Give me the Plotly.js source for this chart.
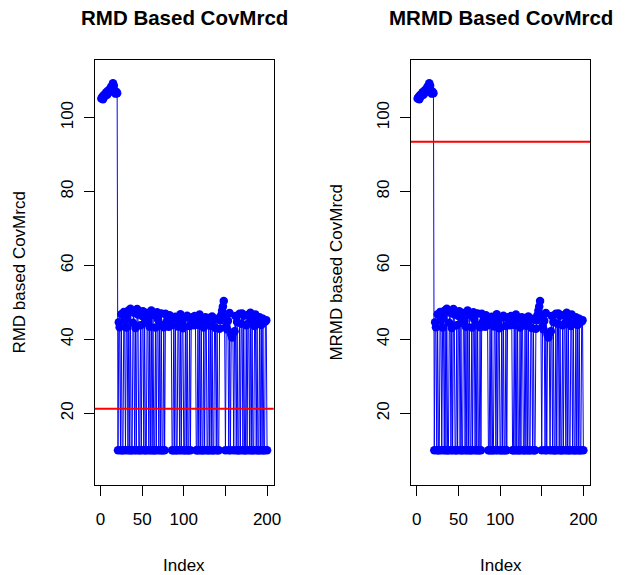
<!DOCTYPE html>
<html>
<head>
<meta charset="utf-8">
<script src="https://cdn.plot.ly/plotly-3.0.1.min.js"></script>
<style>html,body{margin:0;padding:0;background:#fff;}#chart{width:625px;height:575px;}</style>
</head>
<body>
<div id="chart"></div>
<script>
// Values (same series in both panels)
const covMrcd = [
  105.2, 105.6, 105.0, 106.1, 105.8, 106.4, 106.9, 106.2, 107.3, 106.8, 107.6, 107.9, 108.4, 108.1, 109.3, 108.6, 107.2, 106.5, 107.0, 106.6,
  10, 44.6, 43.3, 10, 46.8, 10, 10, 47.4, 45.1, 10, 43.2, 45.9, 10, 47.9, 10, 48.3, 10, 10, 44.5, 47.2,
  10, 43.1, 10, 48.2, 46.7, 10, 10, 43.8, 10, 46.3, 47.6, 10, 44.5, 10, 10, 47.1, 45.0, 10, 43.4, 10,
  47.8, 10, 46.6, 10, 10, 43.2, 10, 47.3, 45.4, 10, 44.1, 10, 47.0, 10, 10, 43.3, 10, 46.9, 44.6, 46.2,
  44.7, 43.4, 46.5, 45.0, 43.8, 10, 10, 45.7, 10, 46.1, 10, 10, 43.5, 45.3, 10, 46.8, 10, 44.1, 43.0, 10,
  10, 45.9, 10, 46.4, 10, 10, 43.6, 10, 45.5, 46.0, 44.2, 43.8, 46.3, 45.7, 10, 10, 43.9, 10, 46.7, 10,
  45.4, 10, 10, 43.2, 10, 46.0, 44.1, 10, 10, 45.8, 10, 43.7, 10, 46.2, 10, 10, 45.3, 43.1, 10, 45.6,
  10, 10, 42.9, 45.2, 46.6, 47.8, 48.9, 50.4, 46.1, 10, 43.6, 42.7, 45.0, 10, 47.1, 10, 41.3, 40.5, 41.6, 10,
  42.2, 46.3, 10, 44.7, 10, 10, 46.9, 10, 44.2, 47.0, 10, 46.4, 10, 10, 43.8, 10, 46.6, 44.5, 10, 47.2,
  10, 45.8, 10, 10, 43.6, 46.7, 10, 44.3, 10, 10, 46.0, 10, 43.9, 10, 45.6, 10, 10, 44.8, 45.2, 10
];
const index = covMrcd.map((_, i) => i + 1);
const rmdCutoff = 21.2;
const mrmdCutoff = 93.5;
const panelTitles = ["RMD Based CovMrcd", "MRMD Based CovMrcd"];
const yLabels = ["RMD based CovMrcd", "MRMD based CovMrcd"];
const xLabel = "Index";
const xTickVals = [0, 50, 100, 150, 200];
const xTickText = ["0", "50", "100", "", "200"];
const yTickVals = [20, 40, 60, 80, 100];

const W = 625, H = 575;
const FONT = "Liberation Sans, Arial, Helvetica, sans-serif";
const blue = "#0000FF";

function trace(xa, ya) {
  return {
    x: index, y: covMrcd, xaxis: xa, yaxis: ya,
    type: "scatter", mode: "lines+markers",
    line: {color: blue, width: 1},
    marker: {color: blue, size: 8.5},
    hoverinfo: "x+y", showlegend: false
  };
}

const px = (v) => v / W;
const py = (v) => 1 - v / H;

const xBase = {
  range: [-6.96, 207.96], showgrid: false, zeroline: false,
  showline: true, mirror: true, linecolor: "#000", linewidth: 1,
  ticks: "outside", ticklen: 10, tickwidth: 1, tickcolor: "#000",
  tickvals: xTickVals, ticktext: xTickText, ticklabelstandoff: 8,
  tickfont: {family: FONT, size: 17, color: "#000"},
  fixedrange: true
};
const yBase = {
  range: [0.5, 115.6], showgrid: false, zeroline: false,
  showline: true, mirror: true, linecolor: "#000", linewidth: 1,
  ticks: "outside", ticklen: 10, tickwidth: 1, tickcolor: "#000",
  tickvals: yTickVals, tickangle: -90, ticklabelstandoff: 4,
  tickfont: {family: FONT, size: 17, color: "#000"},
  domain: [py(485.3), py(60)], fixedrange: true
};

const layout = {
  width: W, height: H, autosize: false,
  margin: {l: 0, r: 0, t: 0, b: 0},
  paper_bgcolor: "#fff", plot_bgcolor: "#fff",
  font: {family: FONT, color: "#000"},
  xaxis: Object.assign({}, xBase, {domain: [px(94.7), px(273.7)], anchor: "y"}),
  yaxis: Object.assign({}, yBase, {anchor: "x"}),
  xaxis2: Object.assign({}, xBase, {domain: [px(411), px(590)], anchor: "y2"}),
  yaxis2: Object.assign({}, yBase, {anchor: "x2"}),
  shapes: [
    {type: "line", xref: "x domain", yref: "y", x0: 0, x1: 1, y0: rmdCutoff, y1: rmdCutoff, line: {color: "#FF0000", width: 2}},
    {type: "line", xref: "x2 domain", yref: "y2", x0: 0, x1: 1, y0: mrmdCutoff, y1: mrmdCutoff, line: {color: "#FF0000", width: 2}}
  ],
  annotations: [
    {text: "<b>" + panelTitles[0] + "</b>", xref: "paper", yref: "paper", x: px(184.2), y: py(18), showarrow: false, xanchor: "center", yanchor: "middle", font: {family: FONT, size: 20.5}},
    {text: "<b>" + panelTitles[1] + "</b>", xref: "paper", yref: "paper", x: px(500.5), y: py(18), showarrow: false, xanchor: "center", yanchor: "middle", font: {family: FONT, size: 20.5}},
    {text: xLabel, xref: "paper", yref: "paper", x: px(184.2), y: py(565), showarrow: false, xanchor: "center", yanchor: "middle", font: {family: FONT, size: 17}},
    {text: xLabel, xref: "paper", yref: "paper", x: px(500.5), y: py(565), showarrow: false, xanchor: "center", yanchor: "middle", font: {family: FONT, size: 17}},
    {text: yLabels[0], xref: "paper", yref: "paper", x: px(20), y: py(272.6), showarrow: false, textangle: -90, xanchor: "center", yanchor: "middle", font: {family: FONT, size: 17}},
    {text: yLabels[1], xref: "paper", yref: "paper", x: px(337), y: py(272.6), showarrow: false, textangle: -90, xanchor: "center", yanchor: "middle", font: {family: FONT, size: 17}}
  ]
};

Plotly.newPlot("chart", [trace("x", "y"), trace("x2", "y2")], layout, {displayModeBar: false, staticPlot: true});
</script>
</body>
</html>
